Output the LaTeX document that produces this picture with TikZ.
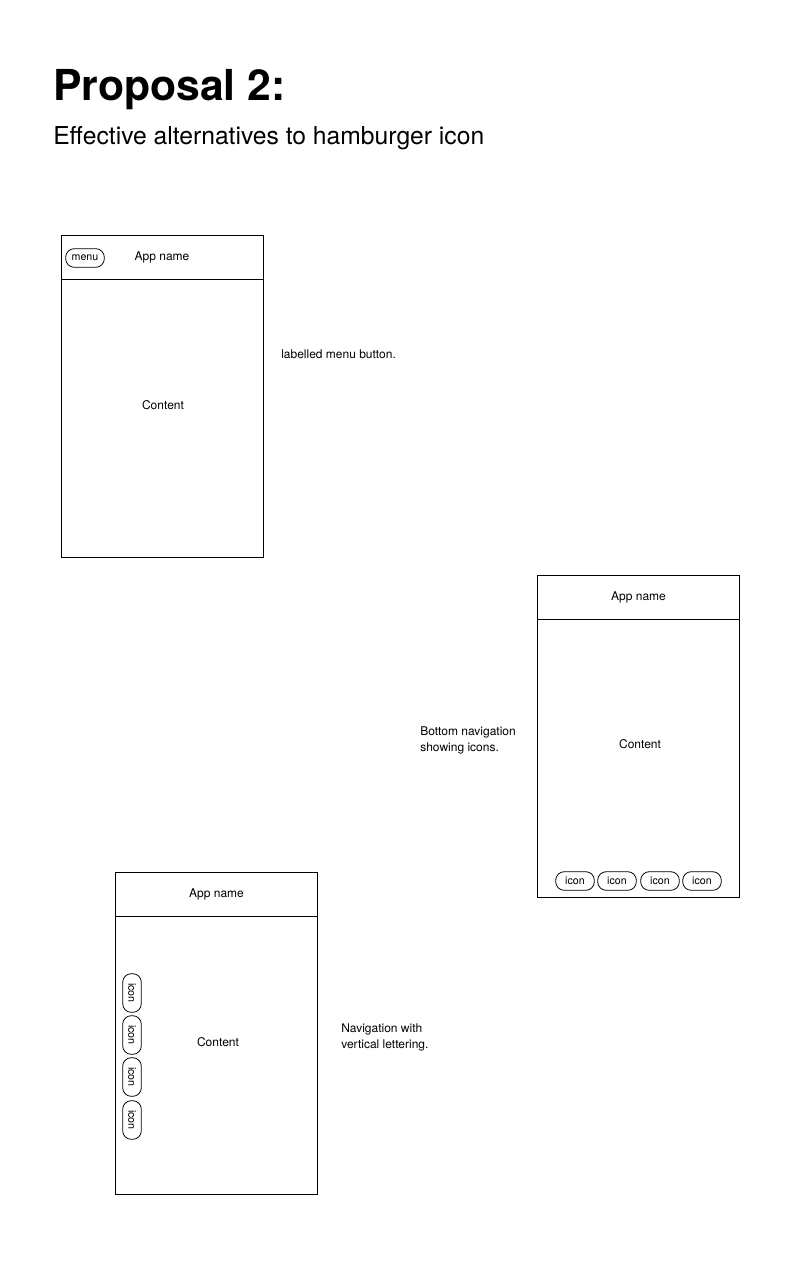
\documentclass[tikz,border=0pt]{standalone}
\usepackage{fontspec}
\setmainfont{TeX Gyre Heros}
\usetikzlibrary{positioning}

\begin{document}
\begin{tikzpicture}[x=0.75pt,y=-0.75pt,
  header/.style={draw,line width=0.6pt,outer sep=0pt,inner sep=0pt,minimum width=151.5pt,minimum height=33pt,font=\fontsize{9}{11}\selectfont},
  screen/.style={draw,line width=0.6pt,outer sep=0pt,minimum width=151.5pt,minimum height=208.5pt},
  pill/.style={draw,line width=0.6pt,rounded corners=6.5pt,inner sep=0pt,minimum width=29pt,minimum height=14pt,font=\fontsize{8}{10}\selectfont},
  txt/.style={inner sep=0pt,font=\fontsize{9}{12}\selectfont},
  note/.style={txt,anchor=west,align=left}]

\useasboundingbox (0,0) rectangle (801,1281);

% title
\node[anchor=base west,inner sep=0pt,font=\fontsize{32}{36}\selectfont\bfseries] (title) at (53,100) {Proposal 2:};
\node[anchor=base west,inner sep=0pt,font=\fontsize{18.5}{22}\selectfont] (subtitle) at (53,144) {Effective alternatives to hamburger icon};

% first screen: labelled menu button
\node[header] (header1) at (162,257.5) {App name};
\node[screen,below=0pt of header1] (body1) {};
\node[pill] (menu) at (85,258) {menu};
\node[txt] (content1) at (163,405) {Content};
\node[note] (note1) at (281,354) {labelled menu button.};

% second screen: bottom navigation
\node[header] (header2) at (638.5,597.5) {App name};
\node[screen,below=0pt of header2] (body2) {};
\node[txt] (content2) at (640,744) {Content};
\node[pill] (icon21) at (575,881) {icon};
\node[pill] (icon22) at (617,881) {icon};
\node[pill] (icon23) at (660,881) {icon};
\node[pill] (icon24) at (702,881) {icon};
\node[note] (note2) at (420,740) {Bottom navigation\\showing icons.};

% third screen: vertical lettering
\node[header] (header3) at (216.5,894.5) {App name};
\node[screen,below=0pt of header3] (body3) {};
\node[txt] (content3) at (218,1042) {Content};
\node[pill,rotate=-90] (icon31) at (132,993) {icon};
\node[pill,rotate=-90] (icon32) at (132,1035) {icon};
\node[pill,rotate=-90] (icon33) at (132,1077) {icon};
\node[pill,rotate=-90] (icon34) at (132,1120) {icon};
\node[note] (note3) at (341,1037) {Navigation with\\vertical lettering.};

\end{tikzpicture}
\end{document}
